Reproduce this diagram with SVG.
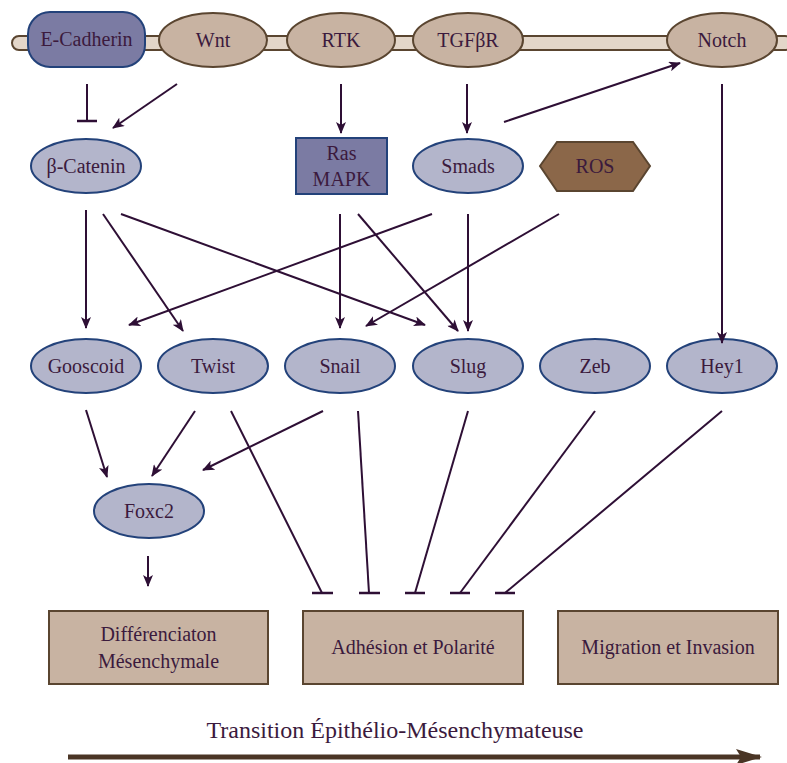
<svg xmlns="http://www.w3.org/2000/svg" width="787" height="763" viewBox="0 0 787 763">
<defs>
<marker id="arr" markerWidth="12" markerHeight="10" refX="11" refY="5" orient="auto" markerUnits="userSpaceOnUse">
<path d="M0,0 L12,5 L0,10 L3,5 z" fill="#2e0f35"/>
</marker>
<marker id="big" markerWidth="26" markerHeight="16" refX="24" refY="8" orient="auto" markerUnits="userSpaceOnUse">
<path d="M0,0 L26,8 L0,16 L5,8 z" fill="#4a3525"/>
</marker>
<style>
.mem{fill:#c8b3a2;stroke:#5a4530;stroke-width:2}
.dark{fill:#7b7ba3;stroke:#23427a;stroke-width:2}
.light{fill:#b3b5cb;stroke:#23427a;stroke-width:2}
.box{fill:#c8b3a2;stroke:#5a4530;stroke-width:2}
.c{stroke:#2e0f35;stroke-width:2;fill:none}
.a{marker-end:url(#arr)}
.bar{stroke:#2e0f35;stroke-width:2.5}
</style>
</defs>
<rect x="12" y="36" width="780" height="14" rx="7" fill="#e3d6c9" stroke="#5a4530" stroke-width="2"/>
<g font-family="Liberation Serif, serif" font-size="20" fill="#3b1a3d" text-anchor="middle">
<g id="ecadherin"><rect x="28" y="12" width="117" height="55" rx="22" class="dark"/><text x="86.5" y="46">E-Cadherin</text></g>
<g id="wnt"><ellipse cx="213" cy="40" rx="54" ry="27" class="mem"/><text x="213" y="47">Wnt</text></g>
<g id="rtk"><ellipse cx="341" cy="40" rx="54" ry="27" class="mem"/><text x="341" y="47">RTK</text></g>
<g id="tgfbr"><ellipse cx="468" cy="40" rx="55" ry="27" class="mem"/><text x="468" y="47">TGFβR</text></g>
<g id="notch"><ellipse cx="722" cy="40" rx="55" ry="27" class="mem"/><text x="722" y="47">Notch</text></g>
<g id="bcatenin"><ellipse cx="86" cy="166" rx="55" ry="27" class="light"/><text x="86" y="173">β-Catenin</text></g>
<g id="rasmapk"><rect x="296" y="138" width="91" height="56" class="dark"/><text x="341.5" y="160">Ras</text><text x="341.5" y="186">MAPK</text></g>
<g id="smads"><ellipse cx="468" cy="166" rx="55" ry="27" class="light"/><text x="468" y="173">Smads</text></g>
<g id="ros"><polygon points="540,166 557,142 633,142 650,166 633,191 557,191" fill="#8b6749" stroke="#5a4530" stroke-width="2"/><text x="595" y="173">ROS</text></g>
<g id="gooscoid"><ellipse cx="86" cy="366" rx="55" ry="27" class="light"/><text x="86" y="373">Gooscoid</text></g>
<g id="twist"><ellipse cx="213" cy="366" rx="55" ry="27" class="light"/><text x="213" y="373">Twist</text></g>
<g id="snail"><ellipse cx="340" cy="366" rx="55" ry="27" class="light"/><text x="340" y="373">Snail</text></g>
<g id="slug"><ellipse cx="468" cy="366" rx="55" ry="27" class="light"/><text x="468" y="373">Slug</text></g>
<g id="zeb"><ellipse cx="595" cy="366" rx="55" ry="27" class="light"/><text x="595" y="373">Zeb</text></g>
<g id="hey1"><ellipse cx="722" cy="366" rx="55" ry="27" class="light"/><text x="722" y="373">Hey1</text></g>
<g id="foxc2"><ellipse cx="149" cy="511" rx="55" ry="27" class="light"/><text x="149" y="518">Foxc2</text></g>
<g id="diff"><rect x="49" y="611" width="219" height="73" class="box"/><text x="158.5" y="641">Différenciaton</text><text x="158.5" y="668">Mésenchymale</text></g>
<g id="adhesion"><rect x="303" y="611" width="220" height="73" class="box"/><text x="413" y="654">Adhésion et Polarité</text></g>
<g id="migration"><rect x="558" y="611" width="220" height="73" class="box"/><text x="668" y="654">Migration et Invasion</text></g>
</g>
<g id="connectors">
<line x1="87" y1="84" x2="87" y2="121" class="c"/><line x1="77" y1="121" x2="97" y2="121" class="bar"/>
<line x1="177" y1="84" x2="113" y2="128" class="c a"/>
<line x1="341" y1="84" x2="341" y2="133" class="c a"/>
<line x1="467" y1="84" x2="467" y2="133" class="c a"/>
<line x1="504" y1="122" x2="680" y2="63" class="c a"/>
<line x1="722" y1="84" x2="722" y2="343" class="c a"/>
<line x1="86" y1="210" x2="86" y2="328" class="c a"/>
<line x1="103" y1="214" x2="183" y2="331" class="c a"/>
<line x1="121" y1="214" x2="425" y2="325" class="c a"/>
<line x1="340" y1="214" x2="340" y2="328" class="c a"/>
<line x1="358" y1="214" x2="458" y2="331" class="c a"/>
<line x1="432" y1="214" x2="129" y2="325" class="c a"/>
<line x1="468" y1="214" x2="468" y2="331" class="c a"/>
<line x1="559" y1="214" x2="366" y2="326" class="c a"/>
<line x1="86" y1="410" x2="107" y2="477" class="c a"/>
<line x1="195" y1="411" x2="152" y2="476" class="c a"/>
<line x1="323" y1="411" x2="203" y2="470" class="c a"/>
<line x1="148" y1="556" x2="148" y2="586" class="c a"/>
<line x1="231" y1="411" x2="322" y2="593" class="c"/><line x1="312" y1="593" x2="333" y2="593" class="bar"/>
<line x1="358" y1="411" x2="369" y2="593" class="c"/><line x1="359" y1="593" x2="380" y2="593" class="bar"/>
<line x1="468" y1="411" x2="415" y2="593" class="c"/><line x1="405" y1="593" x2="425" y2="593" class="bar"/>
<line x1="595" y1="411" x2="460" y2="593" class="c"/><line x1="450" y1="593" x2="470" y2="593" class="bar"/>
<line x1="722" y1="411" x2="505" y2="593" class="c"/><line x1="495" y1="593" x2="515" y2="593" class="bar"/>
</g>
<text x="395" y="738" font-family="Liberation Serif, serif" font-size="24" fill="#3b1a3d" text-anchor="middle">Transition Épithélio-Mésenchymateuse</text>
<line x1="68" y1="757" x2="760" y2="757" stroke="#4a3525" stroke-width="5" marker-end="url(#big)"/>
</svg>
